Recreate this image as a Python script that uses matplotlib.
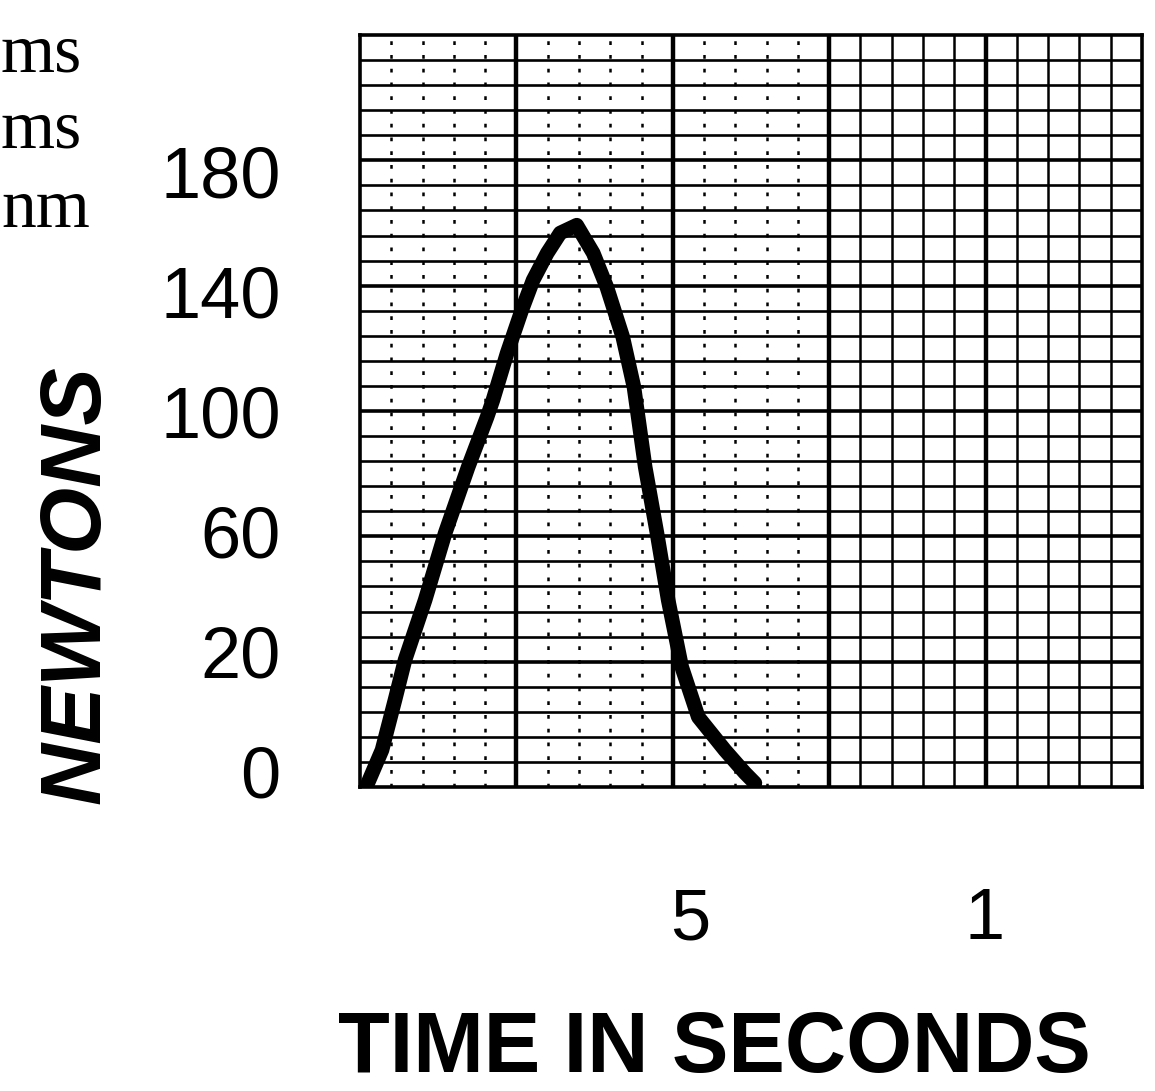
import matplotlib.pyplot as plt

# force curve
time_s = [-0.046, -0.022, 0.000, 0.017, 0.051, 0.085, 0.124, 0.156, 0.166, 0.190,
          0.215, 0.234, 0.258, 0.280, 0.308, 0.336, 0.359, 0.386, 0.405, 0.424,
          0.444, 0.463, 0.486, 0.514, 0.559, 0.593, 0.610]
force_n = [-23.7, -12.7, 4.0, 17.3, 37.2, 59.5, 81.5, 98.1, 103.8, 119.4,
           133.8, 143.7, 152.7, 159.4, 162.0, 152.7, 141.4, 124.8, 108.1, 81.5,
           59.5, 37.2, 14.9, -1.7, -12.7, -20.3, -23.7]

ytick_pos = [-20, 20, 60, 100, 140, 180]
ytick_labels = ['0', '20', '60', '100', '140', '180']
xtick_pos = [0.5, 1.0]
xtick_labels = ['5', '1']

side_words = ['ms', 'ms', 'nm']

narrow = ['Liberation Sans Narrow', 'Liberation Sans', 'DejaVu Sans']
sans = ['Liberation Sans', 'DejaVu Sans']
serif = ['Liberation Serif', 'DejaVu Serif']

W, H = 1155, 1091
fig = plt.figure(figsize=(W / 100, H / 100), dpi=100)
ax = fig.add_axes([360 / W, 1 - 787 / H, 782 / W, 752 / H])

# graph paper: 30 rows, 25 columns, heavier every fifth
for i in range(1, 30):
    lw = 2.6 if i % 5 == 0 else 1.9
    ax.plot([0, 1], [i / 30, i / 30], transform=ax.transAxes, color='black', lw=lw, zorder=1)
for j in range(1, 25):
    x = j / 25
    if j % 5 == 0:
        ax.plot([x, x], [0, 1], transform=ax.transAxes, color='black', lw=3.2, zorder=1)
    elif j < 15:
        ax.plot([x, x], [0, 1], transform=ax.transAxes, color='black', lw=1.8,
                linestyle=(0, (1.5, 4)), zorder=1)
    else:
        ax.plot([x, x], [0, 1], transform=ax.transAxes, color='black', lw=1.8, zorder=1)

ax.plot(time_s, force_n, color='black', lw=10.5, solid_capstyle='round',
        solid_joinstyle='round', zorder=3)

ax.set_xlim(-0.0593, 1.266)
ax.set_ylim(-25.0, 225.3)

ax.set_yticks(ytick_pos)
ax.set_yticklabels(ytick_labels, family=narrow, fontsize=52)
ax.set_xticks(xtick_pos)
ax.set_xticklabels(xtick_labels, family=narrow, fontsize=52)
ax.tick_params(axis='y', length=0, pad=57)
ax.tick_params(axis='x', length=0, pad=72)

for s in ax.spines.values():
    s.set_linewidth(2.6)

fig.text(77 / W, 1 - 585 / H, 'NEWTONS', rotation=90, ha='center', va='center',
         family=sans, fontsize=62, fontweight='bold', fontstyle='italic')
fig.text(714 / W, 1 - 1072 / H, 'TIME IN SECONDS', ha='center', va='baseline',
         family=sans, fontsize=61, fontweight='bold')

for k, word in enumerate(side_words):
    fig.text(1 / W, 1 - [72, 148, 227][k] / H, word, ha='left',
             va='baseline', family=serif, fontsize=50)

fig.savefig('out.png', dpi=100)
